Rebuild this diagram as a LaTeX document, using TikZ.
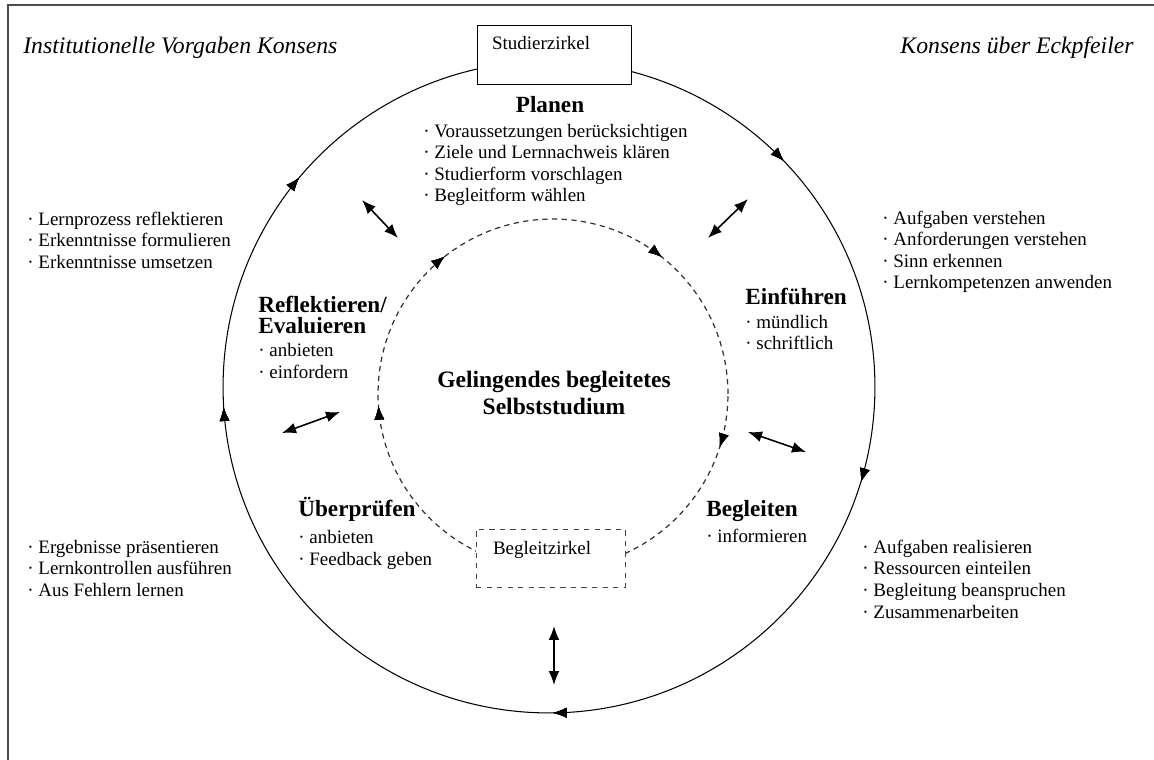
\documentclass[tikz,border=0pt]{standalone}
\usepackage{fontspec}
\setmainfont{Liberation Serif}
\usetikzlibrary{arrows.meta,decorations.markings}

\begin{document}
\begin{tikzpicture}[x=0.02cm, y=0.02cm,
		lst/.style  = {anchor=base west, align=left, inner sep=0pt, font=\fontsize{10.8}{12.3}\selectfont},
		hd/.style   = {anchor=base west, align=left, inner sep=0pt, font=\fontsize{13.2}{12.2}\selectfont\bfseries},
		ital/.style = {inner sep=0pt, font=\fontsize{13.5}{15}\selectfont\itshape},
		zbox/.style = {draw, fill=white, align=left, inner ysep=0pt, font=\fontsize{10.8}{12.3}\selectfont},
		dbl/.style  = {{Latex[length=2.8mm,width=2.2mm]}-{Latex[length=2.8mm,width=2.2mm]}, line width=0.9pt},
		cw/.style   = {postaction=decorate, decoration={markings, mark=at position #1 with {\arrowreversed[black]{Latex[length=2.7mm,width=2mm]}}}},
	]
	\useasboundingbox (0,0) rectangle (1154,-760);
	\draw[line width=1.1pt, black!70] (8,-760) -- (8,-5) -- (1154,-5);

	\draw[line width=0.6pt, cw=0.122, cw=0.389, cw=0.51, cw=0.752, cw=0.953] (549,-387) circle[radius=6.52cm];
	\draw[line width=0.7pt, black!80, dash pattern=on 3pt off 2.5pt, cw=0.143, cw=0.356, cw=0.511, cw=0.951] (553,-394) circle[radius=3.5cm];

	\node[zbox, text width=2.48cm, inner xsep=0.3cm, text height=0.5cm, text depth=0.68cm] (stz) at (554,-54.5) {Studierzirkel};
	\node[zbox, dashed, draw=black!75, text width=2.3cm, inner xsep=0.34cm, text height=0.5cm, text depth=0.66cm] (bgz) at (550.5,-558) {Begleitzirkel};

	\node[ital, anchor=base west] (kons) at (23,-54) {Institutionelle Vorgaben Konsens};
	\node[ital, anchor=base east] (eck)  at (1134,-54) {Konsens über Eckpfeiler};

	\node[align=center, font=\fontsize{13.4}{15.9}\selectfont\bfseries] (ctr) at (554,-393) {Gelingendes begleitetes\\Selbststudium};

	\node[hd, anchor=base] (plan) at (550,-113) {Planen};
	\node[lst] (planl) at (423,-202) {· Voraussetzungen berücksichtigen\\· Ziele und Lernnachweis klären\\· Studierform vorschlagen\\· Begleitform wählen};
	\node[hd] (ein) at (745,-305) {Einführen};
	\node[lst] (einl) at (745,-350) {· mündlich\\· schriftlich};
	\node[hd] (beg) at (706,-517) {Begleiten};
	\node[lst] (begl) at (706,-542) {· informieren};
	\node[hd] (ueb) at (298,-517) {Überprüfen};
	\node[lst] (uebl) at (298,-565) {· anbieten\\· Feedback geben};
	\node[hd] (ref) at (258,-333.5) {Reflektieren/\\Evaluieren};
	\node[lst] (refl) at (258,-378.5) {· anbieten\\· einfordern};

	\node[lst] (lu) at (27,-268.5) {· Lernprozess reflektieren\\· Erkenntnisse formulieren\\· Erkenntnisse umsetzen};
	\node[lst] (ru) at (882,-289) {· Aufgaben verstehen\\· Anforderungen verstehen\\· Sinn erkennen\\· Lernkompetenzen anwenden};
	\node[lst] (ll) at (27,-596.5) {· Ergebnisse präsentieren\\· Lernkontrollen ausführen\\· Aus Fehlern lernen};
	\node[lst] (rl) at (862,-618) {· Aufgaben realisieren\\· Ressourcen einteilen\\· Begleitung beanspruchen\\· Zusammenarbeiten};

	\coordinate (a1) at (362,-200); \coordinate (b1) at (398,-238);
	\coordinate (a2) at (748,-199); \coordinate (b2) at (708,-238);
	\coordinate (a3) at (282,-433); \coordinate (b3) at (340,-412);
	\coordinate (a4) at (748,-432); \coordinate (b4) at (806,-452);
	\coordinate (a5) at (554,-626); \coordinate (b5) at (554,-685);
	\foreach \i in {1,...,5}
		\draw[dbl] (a\i) -- (b\i);
\end{tikzpicture}
\end{document}
